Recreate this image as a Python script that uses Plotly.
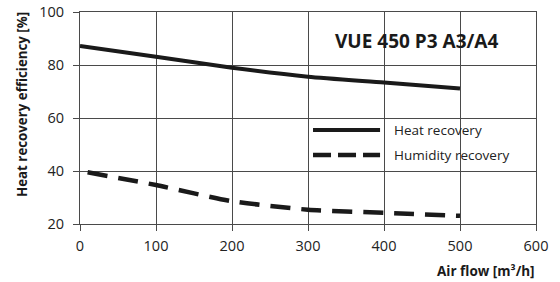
import plotly.graph_objects as go

airflow_heat = [0, 100, 200, 300, 400, 500]
heat_recovery = [87.2, 83.1, 79.0, 75.6, 73.4, 71.1]
airflow_hum = [10, 100, 200, 300, 400, 500]
humidity_recovery = [39.5, 34.7, 28.6, 25.4, 24.2, 23.1]

x_ticks = [0, 100, 200, 300, 400, 500, 600]
y_ticks = [20, 40, 60, 80, 100]

chart_title = "VUE 450 P3 A3/A4"
series_names = ["Heat recovery", "Humidity recovery"]
x_title = "Air flow [m³/h]"
y_title = "Heat recovery efficiency [%]"

FONT = "Open Sans"
GRID = "#4a4a4a"

fig = go.Figure()
fig.add_trace(go.Scatter(x=airflow_heat, y=heat_recovery, mode="lines",
                         line=dict(color="#1a1a1a", width=4, shape="spline", smoothing=0.6),
                         name=series_names[0], showlegend=False))
fig.add_trace(go.Scatter(x=airflow_hum, y=humidity_recovery, mode="lines",
                         line=dict(color="#1a1a1a", width=4.5, dash="20px,11px", shape="spline", smoothing=0.6),
                         name=series_names[1], showlegend=False))

# white boxes hiding gridlines behind title and legend
fig.add_shape(type="rect", xref="paper", yref="paper", x0=0.545, x1=0.99, y0=0.79, y1=0.958,
              fillcolor="white", line_width=0, layer="between")
fig.add_shape(type="rect", xref="paper", yref="paper", x0=0.49, x1=0.99, y0=0.25, y1=0.495,
              fillcolor="white", line_width=0, layer="between")

# custom legend
fig.add_shape(type="line", xref="paper", yref="paper", x0=0.511, x1=0.658, y0=0.443, y1=0.443,
              line=dict(color="#1a1a1a", width=4))
fig.add_shape(type="line", xref="paper", yref="paper", x0=0.511, x1=0.658, y0=0.325, y1=0.325,
              line=dict(color="#1a1a1a", width=4.5, dash="18px,7px"))
fig.add_annotation(xref="paper", yref="paper", x=0.684, y=0.443, text=series_names[0],
                   showarrow=False, xanchor="left", yanchor="middle",
                   font=dict(family=FONT, size=13.5, color="#222"))
fig.add_annotation(xref="paper", yref="paper", x=0.684, y=0.325, text=series_names[1],
                   showarrow=False, xanchor="left", yanchor="middle",
                   font=dict(family=FONT, size=13.5, color="#222"))

fig.add_annotation(xref="paper", yref="paper", x=0.739, y=0.863, text="<b>" + chart_title + "</b>",
                   showarrow=False, xanchor="center", yanchor="middle",
                   font=dict(family=FONT, size=19, color="#1a1a1a"))

fig.add_annotation(xref="paper", yref="paper", x=1.002, y=-0.224, text="<b>" + x_title + "</b>",
                   showarrow=False, xanchor="right", yanchor="middle",
                   font=dict(family=FONT, size=13.5, color="#1a1a1a"))
fig.add_annotation(xref="paper", yref="paper", x=-0.127, y=0.562, text="<b>" + y_title + "</b>",
                   showarrow=False, xanchor="center", yanchor="middle", textangle=-90,
                   font=dict(family=FONT, size=13.3, color="#1a1a1a"))

fig.update_xaxes(range=[0, 600], tickvals=x_ticks, showgrid=True, gridcolor=GRID, gridwidth=1,
                 showline=True, linecolor=GRID, linewidth=1, mirror=True,
                 ticks="outside", ticklen=6, tickcolor=GRID, zeroline=False, automargin=False,
                 ticklabelstandoff=3,
                 tickfont=dict(family=FONT, size=14.5, color="#222"))
fig.update_yaxes(range=[20, 100], tickvals=y_ticks, showgrid=True, gridcolor=GRID, gridwidth=1,
                 showline=True, linecolor=GRID, linewidth=1, mirror=True,
                 ticks="outside", ticklen=6, tickcolor=GRID, zeroline=False, automargin=False,
                 ticklabelstandoff=6,
                 tickfont=dict(family=FONT, size=14.5, color="#222"))

fig.update_layout(template="none", width=560, height=282, autosize=False,
                  margin=dict(l=80, r=24, t=12, b=58, pad=0),
                  plot_bgcolor="white", paper_bgcolor="white", showlegend=False)

fig.write_html("out.html", config={"displayModeBar": False},
               post_script="document.body.style.margin='0';")
